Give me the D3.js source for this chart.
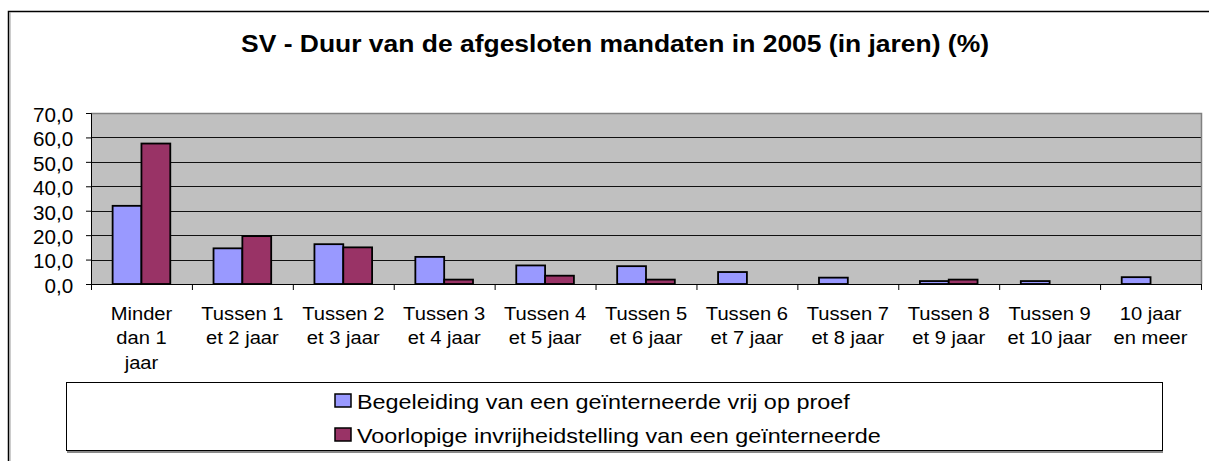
<!DOCTYPE html>
<html>
<head>
<meta charset="utf-8" />
<title>SV - Duur van de afgesloten mandaten</title>
<style>
  body { margin: 0; background: #fff; }
  svg text { font-family: "Liberation Sans", Arial, sans-serif; fill: #000; }
</style>
</head>
<body>
<svg id="chart"></svg>
<script src="https://d3js.org/d3.v7.min.js"></script>
<script>
  // data
  var categories = ["Minder|dan 1|jaar", "Tussen 1|et 2 jaar", "Tussen 2|et 3 jaar", "Tussen 3|et 4 jaar",
                    "Tussen 4|et 5 jaar", "Tussen 5|et 6 jaar", "Tussen 6|et 7 jaar", "Tussen 7|et 8 jaar",
                    "Tussen 8|et 9 jaar", "Tussen 9|et 10 jaar", "10 jaar|en meer"];
  var seriesNames = ["Begeleiding van een geïnterneerde vrij op proef",
                     "Voorlopige invrijheidstelling van een geïnterneerde"];
  var begeleiding = [32.0, 14.6, 16.3, 11.1, 7.6, 7.3, 4.9, 2.6, 1.2, 1.2, 2.8];
  var voorlopige  = [57.5, 19.6, 15.0, 1.8, 3.4, 1.8, 0.0, 0.0, 1.8, 0.0, 0.0];
  var yTicks = [0, 10, 20, 30, 40, 50, 60, 70];
  var colors = ["#9999ff", "#993366"];

  var width = 1209, height = 461;
  var svg = d3.select("#chart").attr("width", width).attr("height", height);

  // the original text is a bit wider than plain Arial
  var stretch = {title: 1.08, y: 1.06, x: 1.09, legend: 1.17};

  // outer chart frame
  svg.append("rect")
     .attr("x", 8.5).attr("y", 11.5)
     .attr("width", 1260).attr("height", 500)
     .attr("fill", "#fff")
     .attr("stroke", "#000")
     .attr("stroke-width", 1.5);
  svg.append("line")
     .attr("x1", 10).attr("x2", 10).attr("y1", 12).attr("y2", height)
     .attr("stroke", "#999").attr("stroke-width", 1);

  svg.append("text")
     .attr("transform", "translate(615,52) scale(" + stretch.title + ",1)")
     .attr("text-anchor", "middle")
     .attr("font-size", "24.5px")
     .attr("font-weight", "bold")
     .text("SV - Duur van de afgesloten mandaten in 2005 (in jaren) (%)");

  var plot = {left: 91, right: 1201, top: 113, bottom: 284};

  var x0 = d3.scaleBand()
             .domain(categories)
             .range([plot.left, plot.right])
             .paddingInner(0).paddingOuter(0);

  var x1 = d3.scaleBand()
             .domain([0, 1])
             .range([0, x0.bandwidth()])
             .paddingInner(0).paddingOuter(0.75);

  var y = d3.scaleLinear()
            .domain([0, 70])
            .range([plot.bottom, plot.top]);

  // plot background
  svg.append("rect")
     .attr("x", plot.left).attr("y", plot.top)
     .attr("width", plot.right - plot.left).attr("height", plot.bottom - plot.top)
     .attr("fill", "#c0c0c0");

  // gridlines
  svg.append("g")
     .selectAll("line")
     .data(yTicks.slice(1, -1))
     .enter().append("line")
     .attr("x1", plot.left).attr("x2", plot.right)
     .attr("y1", function(d){ return Math.round(y(d)) + 0.5; })
     .attr("y2", function(d){ return Math.round(y(d)) + 0.5; })
     .attr("stroke", "#111")
     .attr("stroke-width", 1);

  // plot border top / right (grey)
  svg.append("path")
     .attr("d", "M" + plot.left + "," + (plot.top + 0.5) + "H" + (plot.right + 0.5) + "V" + plot.bottom)
     .attr("fill", "none")
     .attr("stroke", "#808080")
     .attr("stroke-width", 1.5);

  // bars
  var rows = categories.map(function(c, i){
    return {cat: c, vals: [begeleiding[i], voorlopige[i]]};
  });

  var groups = svg.append("g")
                  .selectAll("g")
                  .data(rows)
                  .enter().append("g")
                  .attr("transform", function(d){ return "translate(" + x0(d.cat) + ",0)"; });

  groups.selectAll("rect")
        .data(function(d){ return d.vals.map(function(v, k){ return {k: k, v: v}; }); })
        .enter().append("rect")
        .filter(function(d){ return d.v > 0; })
        .attr("x", function(d){ return x1(d.k); })
        .attr("width", x1.bandwidth())
        .attr("y", function(d){ return y(d.v); })
        .attr("height", function(d){ return y(0) - y(d.v); })
        .attr("fill", function(d){ return colors[d.k]; })
        .attr("stroke", "#000")
        .attr("stroke-width", 1.8);

  // y axis
  var yAxis = svg.append("g")
                 .attr("transform", "translate(" + plot.left + ",0)")
                 .call(d3.axisLeft(y).tickValues(yTicks).tickSize(5)
                         .tickFormat(function(d){ return d3.format(".1f")(d).replace(".", ","); }));
  yAxis.select(".domain").attr("stroke", "#000").attr("stroke-width", 1);
  yAxis.selectAll(".tick line").attr("stroke", "#000");
  yAxis.selectAll("text")
       .attr("font-size", "19.5px")
       .attr("fill", "#000")
       .attr("font-family", "Liberation Sans, Arial, sans-serif")
       .attr("x", -17.7 / stretch.y)
       .attr("dy", "0.43em")
       .attr("transform", "scale(" + stretch.y + ",1)");

  // x axis line and ticks at category boundaries
  var xg = svg.append("g");
  xg.append("line")
    .attr("x1", plot.left).attr("x2", plot.right)
    .attr("y1", plot.bottom + 0.5).attr("y2", plot.bottom + 0.5)
    .attr("stroke", "#000");
  xg.selectAll(".xtick")
    .data(d3.range(categories.length + 1))
    .enter().append("line")
    .attr("class", "xtick")
    .attr("x1", function(i){ return plot.left + i * x0.step() + 0.5; })
    .attr("x2", function(i){ return plot.left + i * x0.step() + 0.5; })
    .attr("y1", plot.bottom).attr("y2", plot.bottom + 6)
    .attr("stroke", "#000");

  var labels = xg.selectAll(".xlabel")
                 .data(categories)
                 .enter().append("text")
                 .attr("class", "xlabel")
                 .attr("text-anchor", "middle")
                 .attr("font-size", "18.5px")
                 .attr("transform", function(d){
                   return "translate(" + (x0(d) + x0.bandwidth() / 2) + ",320) scale(" + stretch.x + ",1)";
                 });
  labels.selectAll("tspan")
        .data(function(d){ return d.split("|"); })
        .enter().append("tspan")
        .attr("x", 0)
        .attr("y", function(d, i){ return i * 24.5; })
        .text(function(d){ return d; });

  // legend
  var lg = svg.append("g");
  lg.append("line")
    .attr("x1", 67).attr("x2", 1163).attr("y1", 452).attr("y2", 452)
    .attr("stroke", "#888").attr("stroke-width", 2);
  lg.append("rect")
    .attr("x", 66.5).attr("y", 382.5)
    .attr("width", 1096).attr("height", 68)
    .attr("fill", "#fff")
    .attr("stroke", "#000")
    .attr("stroke-width", 1);

  var items = lg.selectAll(".item")
                .data(seriesNames)
                .enter().append("g")
                .attr("class", "item")
                .attr("transform", function(d, i){ return "translate(334," + (393.5 + i * 34) + ")"; });
  items.append("rect")
       .attr("x", 1).attr("y", 0.5)
       .attr("width", 16).attr("height", 13)
       .attr("fill", function(d, i){ return colors[i]; })
       .attr("stroke", "#000")
       .attr("stroke-width", 1.5);
  items.append("text")
       .attr("transform", "translate(23,15) scale(" + stretch.legend + ",1)")
       .attr("font-size", "20px")
       .text(function(d){ return d; });
</script>
</body>
</html>
